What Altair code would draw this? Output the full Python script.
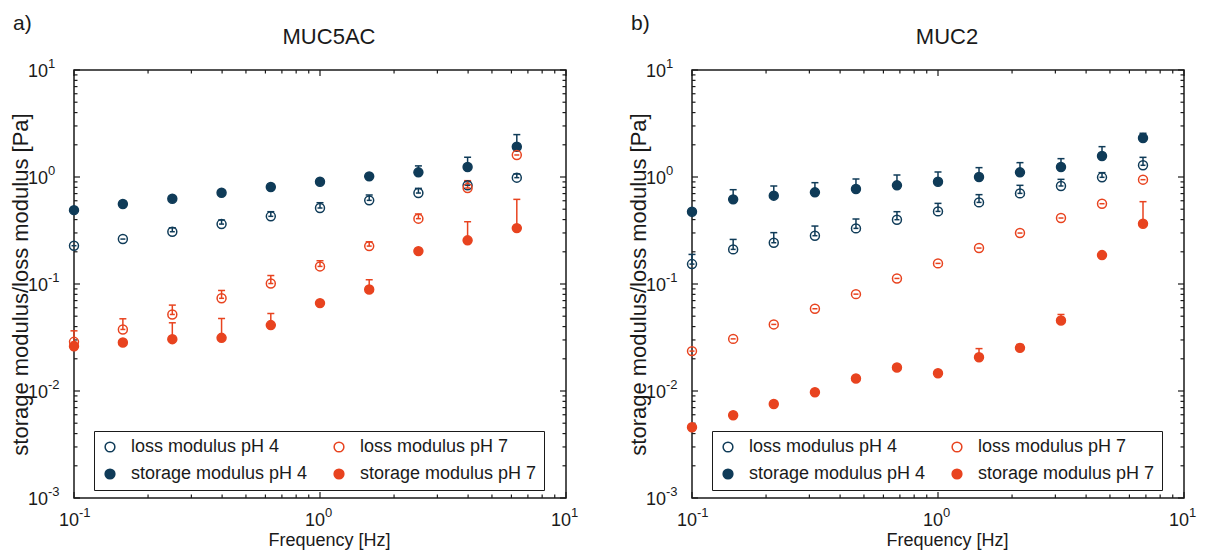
import altair as alt
import pandas as pd

FONT = "Liberation Sans"
INK = "#1a1a1a"
NAVY = "#0f3b58"
RED = "#e8431f"

W, H = 492, 428

series_order = ["loss modulus pH 4", "storage modulus pH 4",
                "loss modulus pH 7", "storage modulus pH 7"]
draw_order = ["loss modulus pH 4", "storage modulus pH 4",
              "loss modulus pH 7", "storage modulus pH 7"]
series_color = {"loss modulus pH 4": NAVY, "storage modulus pH 4": NAVY,
                "loss modulus pH 7": RED, "storage modulus pH 7": RED}

# ---------------- panel a) MUC5AC ----------------
freq_a = [0.1, 0.158, 0.251, 0.398, 0.631, 1.0, 1.585, 2.512, 3.981, 6.31]
a_loss4 = [0.228, 0.263, 0.308, 0.363, 0.429, 0.513, 0.605, 0.708, 0.836, 0.986]
a_loss4_up = [None, None, 0.335, 0.396, 0.474, 0.575, 0.679, 0.783, 0.904, 1.067]
a_stor4 = [0.49, 0.559, 0.627, 0.713, 0.806, 0.904, 1.014, 1.106, 1.24, 1.92]
a_stor4_up = [None, None, None, None, None, None, None, 1.27, 1.53, 2.49]
a_loss7 = [0.0288, 0.0376, 0.0519, 0.0735, 0.101, 0.146, 0.226, 0.408, 0.789, 1.606]
a_loss7_up = [0.0365, 0.0473, 0.0635, 0.087, 0.120, 0.165, 0.248, 0.451, 0.924, None]
a_stor7 = [0.0262, 0.0284, 0.0305, 0.0314, 0.0413, 0.0663, 0.0889, 0.203, 0.256, 0.333]
a_stor7_up = [None, None, 0.0434, 0.0476, 0.053, None, 0.1096, None, 0.382, 0.618]

# ---------------- panel b) MUC2 ----------------
freq_b = [0.1, 0.147, 0.215, 0.316, 0.464, 0.681, 1.0, 1.468, 2.154, 3.162, 4.642, 6.813]
b_loss4 = [0.1535, 0.2106, 0.243, 0.2827, 0.331, 0.399, 0.477, 0.579, 0.703, 0.824, 0.993, 1.286]
b_loss4_up = [0.189, 0.261, 0.302, 0.348, 0.405, 0.474, 0.567, 0.684, 0.836, 0.951, 1.098, 1.527]
b_stor4 = [0.474, 0.618, 0.669, 0.719, 0.772, 0.836, 0.904, 1.0, 1.106, 1.24, 1.572, 2.316]
b_stor4_up = [None, 0.761, 0.824, 0.885, 0.958, 1.044, 1.114, 1.223, 1.362, 1.484, 1.921, 2.562]
b_loss7 = [0.0236, 0.0307, 0.0419, 0.0587, 0.0804, 0.1127, 0.1558, 0.2167, 0.2993, 0.4136, 0.5628, 0.944]
b_loss7_up = [None] * 12
b_stor7 = [0.00458, 0.00593, 0.00757, 0.00974, 0.01308, 0.01658, 0.01467, 0.0207, 0.0253, 0.0456, 0.1863, 0.366]
b_stor7_up = [None, None, None, None, None, None, None, 0.0249, 0.0272, 0.0519, None, 0.588]

titles = ["MUC5AC", "MUC2"]
panel_tags = ["a)", "b)"]

x_major = [0.1, 1, 10]
x_exp = ["-1", "0", "1"]
x_minor = [0.2, 0.3, 0.4, 0.5, 0.6, 0.7, 0.8, 0.9, 2, 3, 4, 5, 6, 7, 8, 9]
y_major = [0.001, 0.01, 0.1, 1, 10]
y_exp = ["-3", "-2", "-1", "0", "1"]
y_minor = [0.002, 0.003, 0.004, 0.005, 0.006, 0.007, 0.008, 0.009,
           0.02, 0.03, 0.04, 0.05, 0.06, 0.07, 0.08, 0.09,
           0.2, 0.3, 0.4, 0.5, 0.6, 0.7, 0.8, 0.9,
           2, 3, 4, 5, 6, 7, 8, 9]


def build_df(freq, groups):
    rows = []
    for name in draw_order:
        vals, ups = groups[name]
        for f, v, u in zip(freq, vals, ups):
            rows.append({"series": name, "freq": f, "value": v, "upper": u})
    return pd.DataFrame(rows)


df_a = build_df(freq_a, {
    "loss modulus pH 4": (a_loss4, a_loss4_up),
    "storage modulus pH 4": (a_stor4, a_stor4_up),
    "loss modulus pH 7": (a_loss7, a_loss7_up),
    "storage modulus pH 7": (a_stor7, a_stor7_up),
})
df_b = build_df(freq_b, {
    "loss modulus pH 4": (b_loss4, b_loss4_up),
    "storage modulus pH 4": (b_stor4, b_stor4_up),
    "loss modulus pH 7": (b_loss7, b_loss7_up),
    "storage modulus pH 7": (b_stor7, b_stor7_up),
})

xs = alt.Scale(type="log", domain=[0.1, 10], nice=False)
ys = alt.Scale(type="log", domain=[0.001, 10], nice=False)

AX = alt.Axis(values=x_major, labels=False, ticks=False, tickSize=0, domain=False,
              grid=False, title="Frequency [Hz]", titleFontSize=18,
              titleFontWeight="normal", titleFont=FONT, titleColor=INK,
              titleX=W / 2 + 9, titleY=47, titleBaseline="alphabetic")
AY = alt.Axis(values=y_major, labels=False, ticks=False, tickSize=0, domain=False,
              grid=False, title="storage modulus/loss modulus [Pa]", titleFontSize=22,
              titleFontWeight="normal", titleFont=FONT, titleColor=INK,
              titleAngle=270, titleX=-47, titleY=H / 2, titleBaseline="alphabetic",
              titleAlign="center")


def panel(df, title, tag):
    layers = []
    # inward ticks (box)
    for vals, ln in ((x_major, 6), (x_minor, 3.5)):
        d = pd.DataFrame({"t": vals})
        layers.append(alt.Chart(d).mark_rule(color=INK, strokeWidth=1.2).encode(
            x=alt.X("t:Q", scale=xs, axis=AX), y=alt.value(H), y2=alt.value(H - ln)))
        layers.append(alt.Chart(d).mark_rule(color=INK, strokeWidth=1.2).encode(
            x=alt.X("t:Q", scale=xs, axis=AX), y=alt.value(0), y2=alt.value(ln)))
    for vals, ln in ((y_major, 6), (y_minor, 3.5)):
        d = pd.DataFrame({"t": vals})
        layers.append(alt.Chart(d).mark_rule(color=INK, strokeWidth=1.2).encode(
            y=alt.Y("t:Q", scale=ys, axis=AY), x=alt.value(0), x2=alt.value(ln)))
        layers.append(alt.Chart(d).mark_rule(color=INK, strokeWidth=1.2).encode(
            y=alt.Y("t:Q", scale=ys, axis=AY), x=alt.value(W), x2=alt.value(W - ln)))

    # tick labels 10^n with raised exponent
    xl = pd.DataFrame({"t": x_major, "base": ["10"] * len(x_major), "exp": x_exp})
    layers.append(alt.Chart(xl).mark_text(align="right", baseline="alphabetic", dx=5,
                                          fontSize=18, font=FONT, color=INK).encode(
        x=alt.X("t:Q", scale=xs, axis=AX), y=alt.value(H + 28), text="base:N"))
    layers.append(alt.Chart(xl).mark_text(align="left", baseline="alphabetic", dx=5,
                                          fontSize=13, font=FONT, color=INK).encode(
        x=alt.X("t:Q", scale=xs, axis=AX), y=alt.value(H + 19), text="exp:N"))
    yl = pd.DataFrame({"t": y_major, "base": ["10"] * len(y_major), "exp": y_exp})
    layers.append(alt.Chart(yl).mark_text(align="right", baseline="alphabetic", dy=7,
                                          fontSize=18, font=FONT, color=INK).encode(
        y=alt.Y("t:Q", scale=ys, axis=AY), x=alt.value(-26), text="base:N"))
    layers.append(alt.Chart(yl).mark_text(align="left", baseline="alphabetic", dy=-2,
                                          fontSize=13, font=FONT, color=INK).encode(
        y=alt.Y("t:Q", scale=ys, axis=AY), x=alt.value(-26), text="exp:N"))

    # error bars (upper only, with caps)
    for name in draw_order:
        e = df[(df["series"] == name) & df["upper"].notna()]
        if len(e) == 0:
            continue
        c = series_color[name]
        layers.append(alt.Chart(e).mark_rule(color=c, strokeWidth=1.5).encode(
            x=alt.X("freq:Q", scale=xs, axis=AX),
            y=alt.Y("value:Q", scale=ys, axis=AY), y2="upper:Q"))
        layers.append(alt.Chart(e).mark_point(shape="stroke", size=49, strokeWidth=1.5,
                                              color=c, opacity=1).encode(
            x=alt.X("freq:Q", scale=xs, axis=AX),
            y=alt.Y("upper:Q", scale=ys, axis=AY)))

    legend = alt.Legend(orient="none", legendX=20, legendY=361, columns=2, title=None,
                        labelFontSize=18, labelFont=FONT, labelColor=INK,
                        symbolSize=95, symbolStrokeWidth=1.5, symbolType="circle",
                        padding=7, rowPadding=9, columnPadding=22, labelOffset=12,
                        labelLimit=400, strokeColor=INK)
    layers.append(alt.Chart(df).mark_point(shape="circle", filled=True, size=80,
                                           strokeWidth=1.5, opacity=1).encode(
        x=alt.X("freq:Q", scale=xs, axis=AX),
        y=alt.Y("value:Q", scale=ys, axis=AY),
        stroke=alt.Stroke("series:N", scale=alt.Scale(domain=series_order,
                                                      range=[NAVY, NAVY, RED, RED]),
                          legend=legend),
        fill=alt.Fill("series:N", scale=alt.Scale(domain=series_order,
                                                  range=["transparent", NAVY, "transparent", RED]),
                      legend=legend),
    ))
    # centre dash of the open (loss) markers
    for name in ["loss modulus pH 4", "loss modulus pH 7"]:
        e = df[df["series"] == name]
        layers.append(alt.Chart(e).mark_point(shape="stroke", size=25, strokeWidth=1.5,
                                              color=series_color[name], opacity=1).encode(
            x=alt.X("freq:Q", scale=xs, axis=AX),
            y=alt.Y("value:Q", scale=ys, axis=AY)))

    # panel tag and panel title as text
    tagdf = pd.DataFrame({"tag": [tag]})
    layers.append(alt.Chart(tagdf).mark_text(align="left", baseline="alphabetic",
                                             fontSize=21, font=FONT, color=INK).encode(
        text="tag:N", x=alt.value(-61), y=alt.value(-40)))
    tdf = pd.DataFrame({"title": [title]})
    layers.append(alt.Chart(tdf).mark_text(align="center", baseline="alphabetic",
                                           fontSize=22, font=FONT, color=INK).encode(
        text="title:N", x=alt.value(W / 2 + 9), y=alt.value(-26)))

    return alt.layer(*layers).properties(width=W, height=H)


left = panel(df_a, titles[0], panel_tags[0])
right = panel(df_b, titles[1], panel_tags[1])

chart = alt.hconcat(left, right, spacing=126, bounds="flush").resolve_scale(
    stroke="independent", fill="independent", x="independent", y="independent"
).resolve_legend(stroke="independent", fill="independent").properties(
    padding={"left": 0, "top": 4, "right": 0, "bottom": 0}
).configure(font=FONT).configure_view(stroke=INK, strokeWidth=1.5)

chart.save("out.html", embed_options={"renderer": "svg", "actions": False})
